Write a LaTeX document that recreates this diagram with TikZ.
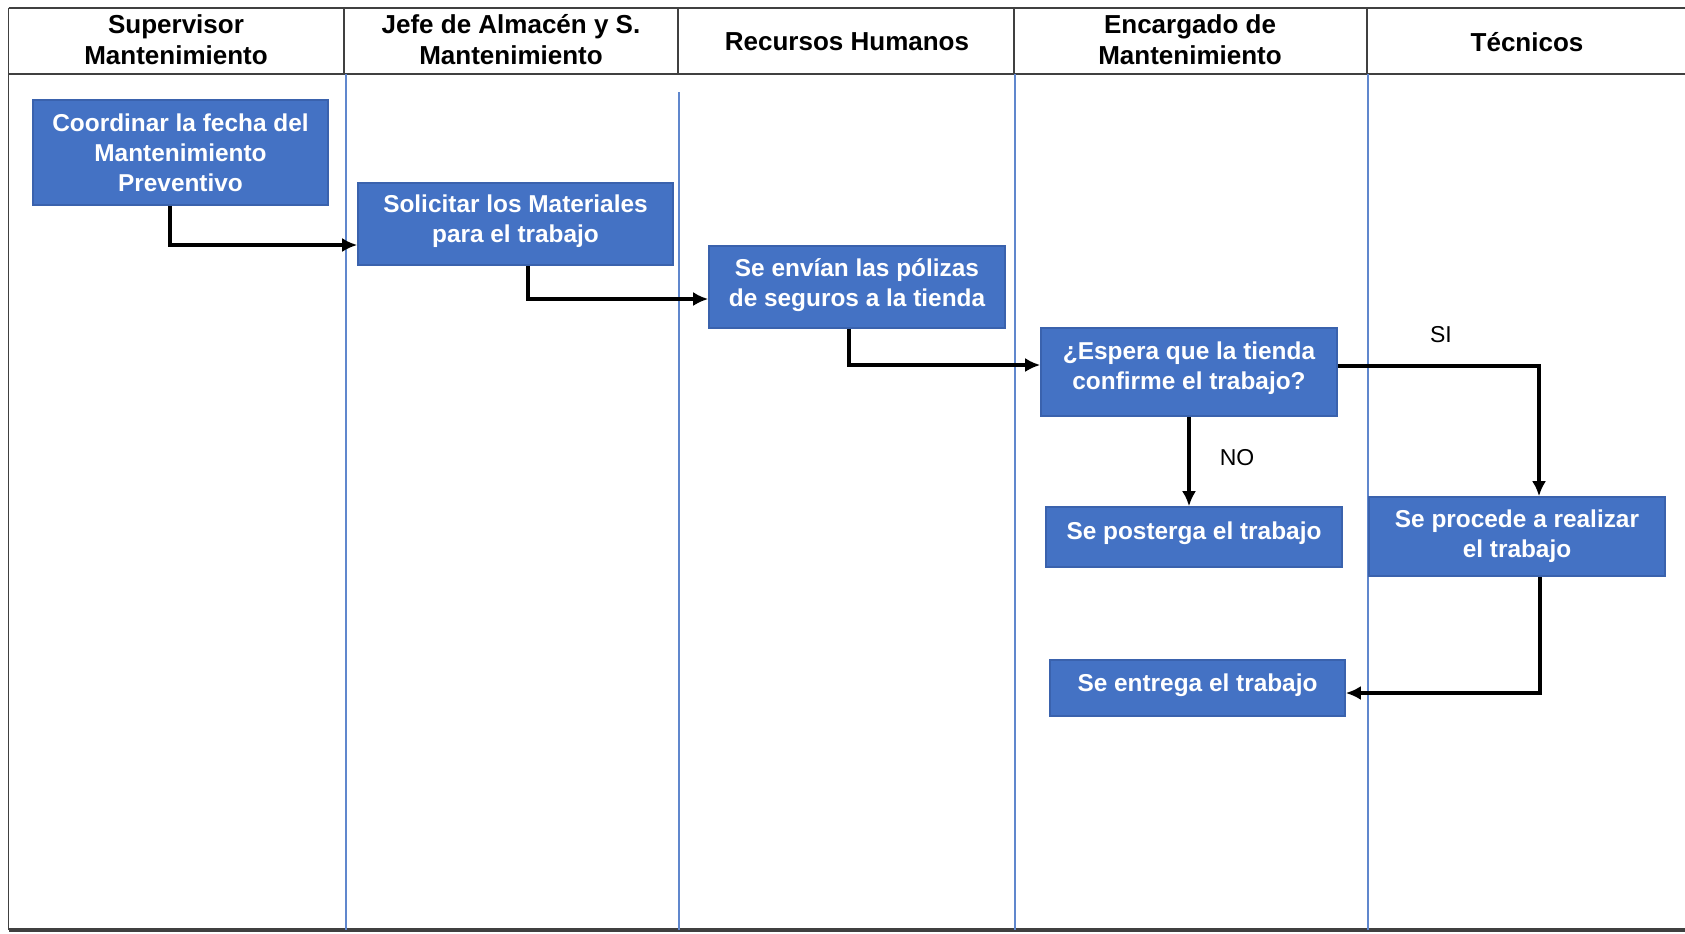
\documentclass[tikz,border=0pt]{standalone}
\usepackage{fontspec}
\setmainfont{Liberation Sans}
\usetikzlibrary{calc, arrows.meta}
\definecolor{cajaazul}{HTML}{4472C4}
\definecolor{bordeazul}{HTML}{3A62AD}
\definecolor{lineagris}{HTML}{404040}

\begin{document}
\begin{tikzpicture}[x=0.5pt,y=-0.5pt,>={Latex[length=7.5pt,width=7pt]},
  caja/.style={rectangle,fill=cajaazul,draw=bordeazul,line width=0.8pt,text=white,
    font=\fontsize{12.2pt}{15pt}\selectfont\bfseries,align=center,inner sep=0pt},
  titulo/.style={font=\fontsize{13pt}{15.5pt}\selectfont\bfseries,align=center},
  flujo/.style={->,line width=1.7pt},
  carril/.style={draw=cajaazul!85,line width=0.7pt},
  etiqueta/.style={font=\fontsize{11.5pt}{13pt}\selectfont}]
\useasboundingbox (0,0) rectangle (1685,933);

% encabezado
\draw[lineagris,line width=1pt] (8.6,7.5) -- (1685,7.5);
\draw[lineagris,line width=1pt] (8.6,74) -- (1685,74);
\foreach \x in {344,678,1014,1367}
  \draw[lineagris,line width=0.8pt] (\x,7.5) -- (\x,74);
\draw[lineagris,line width=0.8pt] (8.6,7.5) -- (8.6,930);
\draw[lineagris,line width=1.6pt] (8.6,930) -- (1685,930);

% carriles
\foreach \x/\y in {346/74,679/92,1015/74,1368/74}
  \draw[carril] (\x,\y) -- (\x,930);

\node[titulo] (hsup) at (176,40) {Supervisor\\Mantenimiento};
\node[titulo] (hjefe) at (511,40) {Jefe de Almacén y S.\\Mantenimiento};
\node[titulo] (hrrhh) at (847,42) {Recursos Humanos};
\node[titulo] (henc) at (1190,40) {Encargado de\\Mantenimiento};
\node[titulo] (htec) at (1527,42) {Técnicos};

% actividades
\node[caja,minimum width=147.5pt,minimum height=52.5pt] (coord) at (180.5,152.5) {Coordinar la fecha del\\Mantenimiento\\Preventivo};
\node[caja,minimum width=157.5pt,minimum height=41pt,text depth=5pt] (solic) at (515.5,224) {Solicitar los Materiales\\para el trabajo};
\node[caja,minimum width=148pt,minimum height=41pt,text depth=4pt] (polizas) at (857,287) {Se envían las pólizas\\de seguros a la tienda};
\node[caja,minimum width=148pt,minimum height=44pt,text depth=6pt] (espera) at (1189,372) {¿Espera que la tienda\\confirme el trabajo?};
\node[caja,minimum width=148pt,minimum height=30pt,text depth=6pt] (posterga) at (1194,537) {Se posterga el trabajo};
\node[caja,minimum width=148pt,minimum height=39.5pt] (procede) at (1517,536.5) {Se procede a realizar\\el trabajo};
\node[caja,minimum width=147.5pt,minimum height=28pt,text depth=5.5pt] (entrega) at (1197.5,688) {Se entrega el trabajo};

% flechas
\draw[flujo] ($(coord.south)+(-10.5,0)$) |- ($(solic.west)+(0,21)$);
\draw[flujo] ($(solic.south)+(12.5,0)$) |- ($(polizas.west)+(0,12)$);
\draw[flujo] ($(polizas.south)+(-8,0)$) |- ($(espera.west)+(0,-7)$);
\draw[flujo] ($(espera.east)+(0,-6)$) -| ($(procede.north)+(22,0)$);
\draw[flujo] (espera.south) -- (espera.south |- posterga.north);
\draw[flujo] ($(procede.south)+(23,0)$) |- ($(entrega.east)+(0,5)$);

\node[etiqueta] (lblsi) at (1441,335) {SI};
\node[etiqueta] (lblno) at (1237,458) {NO};
\end{tikzpicture}
\end{document}
